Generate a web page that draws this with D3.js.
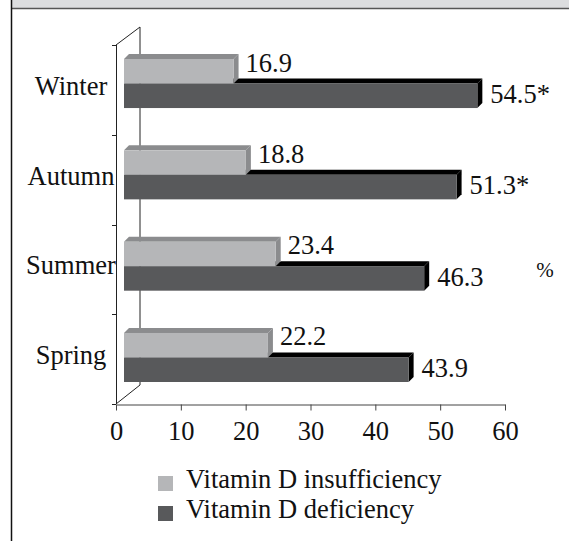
<!DOCTYPE html>
<html>
<head>
<meta charset="utf-8">
<script src="https://d3js.org/d3.v7.min.js"></script>
<style>
  body { margin: 0; background: #fff; }
  text { font-family: "Liberation Serif", "Times New Roman", serif; fill: #111; }
</style>
</head>
<body>
<svg id="chart" width="569" height="541"></svg>
<script>
// values
var seasons = ["Winter", "Autumn", "Summer", "Spring"];
var insufficiency = [16.9, 18.8, 23.4, 22.2];
var deficiency = [54.5, 51.3, 46.3, 43.9];
var deficiencyMark = ["*", "*", "", ""];
var xTicks = [0, 10, 20, 30, 40, 50, 60];
var seriesNames = ["Vitamin D insufficiency", "Vitamin D deficiency"];
var unitLabel = "%";

var svg = d3.select("#chart");

// frame: grey header strip and left rule
svg.append("rect").attr("x", 11).attr("y", 0).attr("width", 558).attr("height", 8)
   .attr("fill", "#dcdddf");
svg.append("line").attr("x1", 11).attr("x2", 569).attr("y1", 8.5).attr("y2", 8.5)
   .attr("stroke", "#555").attr("stroke-width", 1.5);
svg.append("line").attr("x1", 11.5).attr("x2", 11.5).attr("y1", 0).attr("y2", 541)
   .attr("stroke", "#111").attr("stroke-width", 1.5);

var fs = 26.5;
var depth = { dx: 24, dy: -19 };     // floor depth of the 3d box
var barOff = { dx: 8, dy: 0 };       // bars sit a bit behind the front plane
var bd = 5;                          // bar thickness

var x = d3.scaleLinear().domain([0, 60]).range([116, 505]);
var yFront = d3.scaleBand().domain(seasons).range([45, 404]);
var yBar = d3.scaleBand().domain(seasons).range([59, 382]).paddingInner(0.463).paddingOuter(0);
var yInner = d3.scaleBand().domain(["ins", "def"]).range([0, yBar.bandwidth()]);

var baseY = 404;

// back wall + floor edges
var g = svg.append("g");
g.append("line").attr("x1", 116 + depth.dx).attr("x2", 116 + depth.dx)
  .attr("y1", 45 + depth.dy + 1).attr("y2", baseY + depth.dy)
  .attr("stroke", "#222").attr("stroke-width", 1);
g.append("line").attr("x1", 116).attr("y1", 45).attr("x2", 116 + depth.dx).attr("y2", 45 + depth.dy + 1)
  .attr("stroke", "#222").attr("stroke-width", 1);
g.append("line").attr("x1", 116).attr("y1", baseY).attr("x2", 116 + depth.dx).attr("y2", baseY + depth.dy)
  .attr("stroke", "#222").attr("stroke-width", 1);

// front category axis
g.append("line").attr("x1", 116.5).attr("x2", 116.5).attr("y1", 45).attr("y2", baseY)
  .attr("stroke", "#222").attr("stroke-width", 1);
var bounds = seasons.map(function(s) { return yFront(s); }).concat([baseY]);
g.selectAll(".ytick").data(bounds).enter().append("line")
  .attr("class", "ytick")
  .attr("x1", 112).attr("x2", 116)
  .attr("y1", function(d) { return Math.round(d) + 0.5; })
  .attr("y2", function(d) { return Math.round(d) + 0.5; })
  .attr("stroke", "#222");

g.selectAll(".cat").data(seasons).enter().append("text")
  .attr("class", "cat")
  .attr("x", 71)
  .attr("y", function(d) { return yFront(d) + yFront.bandwidth() / 2 + 5; })
  .attr("text-anchor", "middle")
  .attr("font-size", fs)
  .text(function(d) { return d; });

// value axis
var xAxis = svg.append("g")
  .attr("transform", "translate(0," + (baseY + 0.5) + ")")
  .call(d3.axisBottom(x).tickValues(xTicks).tickSize(6).tickSizeOuter(0));
xAxis.select(".domain").attr("stroke", "#444");
xAxis.selectAll(".tick line").attr("stroke", "#444");
xAxis.selectAll(".tick text")
  .attr("font-family", "Liberation Serif, serif")
  .attr("font-size", fs)
  .attr("fill", "#111")
  .attr("y", 35.5).attr("dy", null);

// 3d bars
function bar(sel, v, y0, h, front, top) {
  var x0 = x(0) + barOff.dx, x1 = x(v) + barOff.dx;
  sel.append("polygon")
    .attr("points", [[x0, y0], [x0 + bd, y0 - bd], [x1 + bd, y0 - bd], [x1, y0]].join(" "))
    .attr("fill", top);
  sel.append("polygon")
    .attr("points", [[x1, y0], [x1 + bd, y0 - bd], [x1 + bd, y0 + h - bd], [x1, y0 + h]].join(" "))
    .attr("fill", top);
  sel.append("rect")
    .attr("x", x0).attr("y", y0).attr("width", x1 - x0).attr("height", h)
    .attr("fill", front);
}

var colors = {
  ins: { front: "#b5b6b8", top: "#8b8c8e" },
  def: { front: "#58595b", top: "#000000" }
};

var bars = svg.append("g");
seasons.forEach(function(s, i) {
  var h = yInner.bandwidth();
  bar(bars, deficiency[i], yBar(s) + yInner("def"), h, colors.def.front, colors.def.top);
});
seasons.forEach(function(s, i) {
  var h = yInner.bandwidth();
  bar(bars, insufficiency[i], yBar(s) + yInner("ins"), h, colors.ins.front, colors.ins.top);
});

// value labels
svg.selectAll(".lab-ins").data(seasons).enter().append("text")
  .attr("class", "lab-ins")
  .attr("x", function(d, i) { return x(insufficiency[i]) + barOff.dx + 12; })
  .attr("y", function(d) { return yBar(d) + yInner("ins") + 12.5; })
  .attr("font-size", fs)
  .text(function(d, i) { return insufficiency[i].toFixed(1); });

svg.selectAll(".lab-def").data(seasons).enter().append("text")
  .attr("class", "lab-def")
  .attr("x", function(d, i) { return x(deficiency[i]) + barOff.dx + 13; })
  .attr("y", function(d) { return yBar(d) + yInner("def") + 19.5; })
  .attr("font-size", fs)
  .text(function(d, i) { return deficiency[i].toFixed(1) + deficiencyMark[i]; });

svg.append("text")
  .attr("x", 545).attr("y", 277)
  .attr("text-anchor", "middle")
  .attr("font-size", 21)
  .text(unitLabel);

// legend
var legend = svg.append("g").selectAll("g").data(seriesNames).enter().append("g")
  .attr("transform", function(d, i) { return "translate(158," + (476 + i * 30) + ")"; });
legend.append("rect")
  .attr("width", 15).attr("height", 15)
  .attr("fill", function(d, i) { return i === 0 ? colors.ins.front : colors.def.front; });
legend.append("text")
  .attr("x", 28).attr("y", 11.5)
  .attr("font-size", fs)
  .text(function(d) { return d; });
</script>
</body>
</html>
